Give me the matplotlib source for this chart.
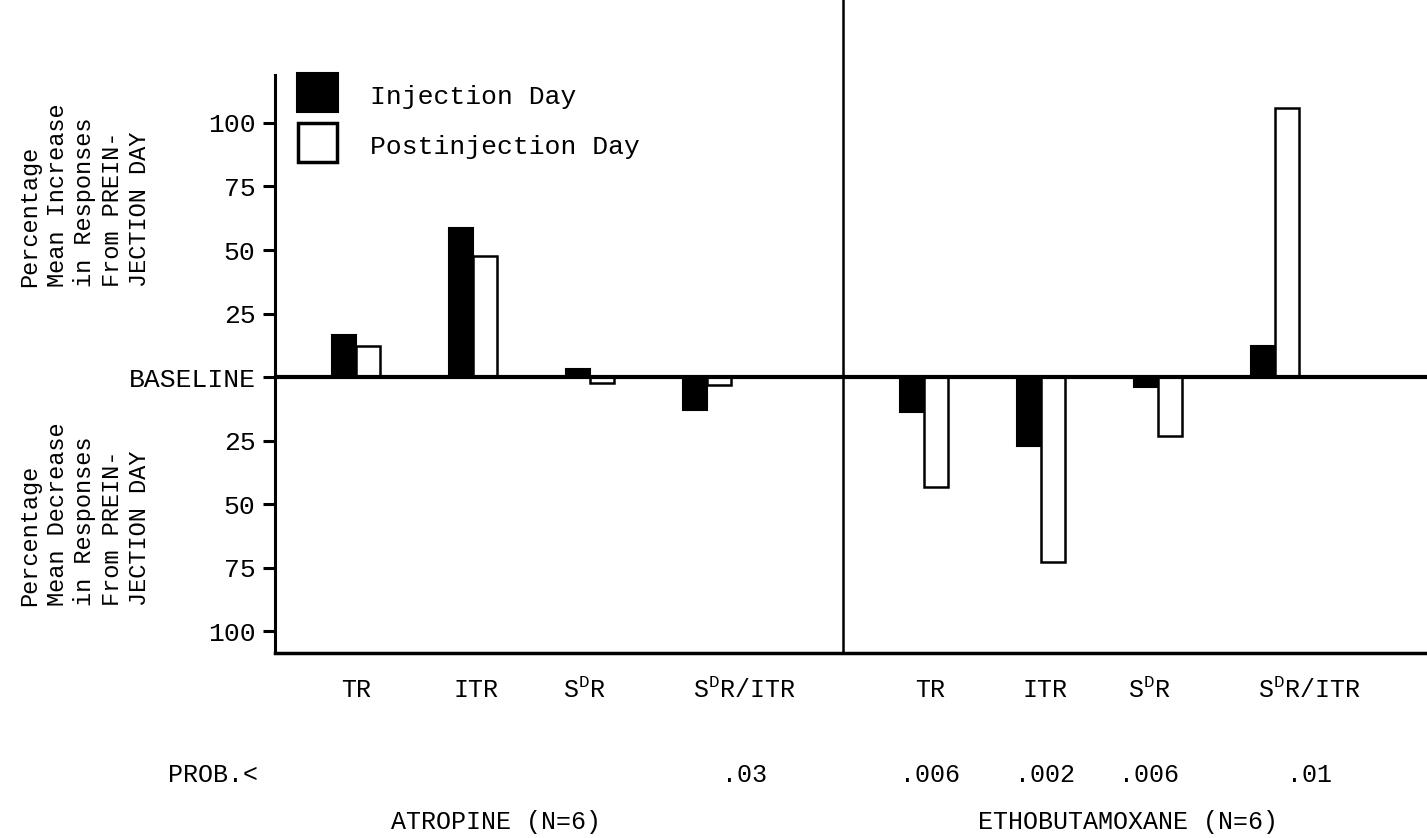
import matplotlib
matplotlib.use("Agg")
import matplotlib.pyplot as plt
from matplotlib.patches import Rectangle
import numpy as np

plt.rcParams['font.family'] = ['Liberation Mono', 'DejaVu Sans Mono']
plt.rcParams['mathtext.fontset'] = 'custom'
plt.rcParams['mathtext.rm'] = 'Liberation Mono'

# data (percent change from preinjection day)
drugs = ['ATROPINE (N=6)', 'ETHOBUTAMOXANE (N=6)']
measures = ['TR', 'ITR', r'$\mathrm{S^{D}R}$', r'$\mathrm{S^{D}R/ITR}$']
injection_day = [16.4, 58.6, 3.1, -13.1, -13.8, -27.1, -3.9, 12.1]
postinjection_day = [12.1, 47.6, -2.5, -3.2, -43.3, -72.8, -23.3, 105.9]
probs = ['', '', '', '.03', '.006', '.002', '.006', '.01']
ytick_vals = [100, 75, 50, 25, 0, -25, -50, -75, -100]
ytick_labels = ['100', '75', '50', '25', 'BASELINE', '25', '50', '75', '100']

fig = plt.figure(figsize=(14.27, 8.38), dpi=100)
ax = fig.add_axes([0.1927, 0.2211, 0.8073, 0.7789])

# two groups of four measures, with a gap between the drugs
x = np.concatenate([np.arange(4), np.arange(4) + 4.855])
w = 0.205
ax.bar(x - w / 2, injection_day, w, color='black', edgecolor='black', lw=1.5, zorder=3)
ax.bar(x + w / 2, postinjection_day, w, color='white', edgecolor='black', lw=1.8, zorder=3)

ax.axhline(0, color='black', lw=3, zorder=4)
ax.axvline(4.158, color='black', lw=1.8)

ax.set_xlim(-0.69, 9.15)
ax.set_ylim(-108.5, 148.4)
ax.set_xticks([])
ax.set_yticks(ytick_vals)
ax.set_yticklabels(ytick_labels)
ax.tick_params(axis='y', direction='out', length=9, width=2.2, labelsize=19, pad=5)
for s in ['top', 'right']:
    ax.spines[s].set_visible(False)
ax.spines['left'].set_bounds(-108.5, 119)
ax.spines['left'].set_linewidth(2.2)
ax.spines['bottom'].set_linewidth(2.5)

# category labels, probabilities, drug names
trans = ax.get_xaxis_transform()
lab_shift = [0, 0.03, -0.05, 0.32, 0.05, 0.03, -0.08, 0.29]
for i, xi in enumerate(x):
    ax.text(xi + lab_shift[i], -0.057, measures[i % 4], transform=trans,
            ha='center', va='center', fontsize=18)
    if probs[i]:
        ax.text(xi + lab_shift[i], -0.187, probs[i], transform=trans,
                ha='center', va='center', fontsize=18)
ax.text(-1.22, -0.187, 'PROB.<', transform=trans, ha='center', va='center', fontsize=18)
ax.text(1.2, -0.259, drugs[0], transform=trans, ha='center', va='center', fontsize=18)
ax.text(6.6, -0.259, drugs[1], transform=trans, ha='center', va='center', fontsize=18)

# y-axis descriptions
fig.text(85 / 1427, 1 - 195 / 838,
         'Percentage\nMean Increase\nin Responses\nFrom PREIN-\nJECTION DAY',
         rotation=90, ha='center', va='center', multialignment='left',
         fontsize=17, linespacing=1.25)
fig.text(85 / 1427, 1 - 514 / 838,
         'Percentage\nMean Decrease\nin Responses\nFrom PREIN-\nJECTION DAY',
         rotation=90, ha='center', va='center', multialignment='left',
         fontsize=17, linespacing=1.25)

# legend key
fig.add_artist(Rectangle((297 / 1427, 1 - 112 / 838), 41 / 1427, 39 / 838,
                         transform=fig.transFigure, facecolor='black',
                         edgecolor='black', lw=1.5))
fig.add_artist(Rectangle((298 / 1427, 1 - 162 / 838), 39 / 1427, 39 / 838,
                         transform=fig.transFigure, facecolor='white',
                         edgecolor='black', lw=2.5))
fig.text(370 / 1427, 1 - 97 / 838, 'Injection Day', ha='left', va='center', fontsize=19)
fig.text(370 / 1427, 1 - 147 / 838, 'Postinjection Day', ha='left', va='center', fontsize=19)

fig.savefig('out.png', dpi=100, facecolor='white')
